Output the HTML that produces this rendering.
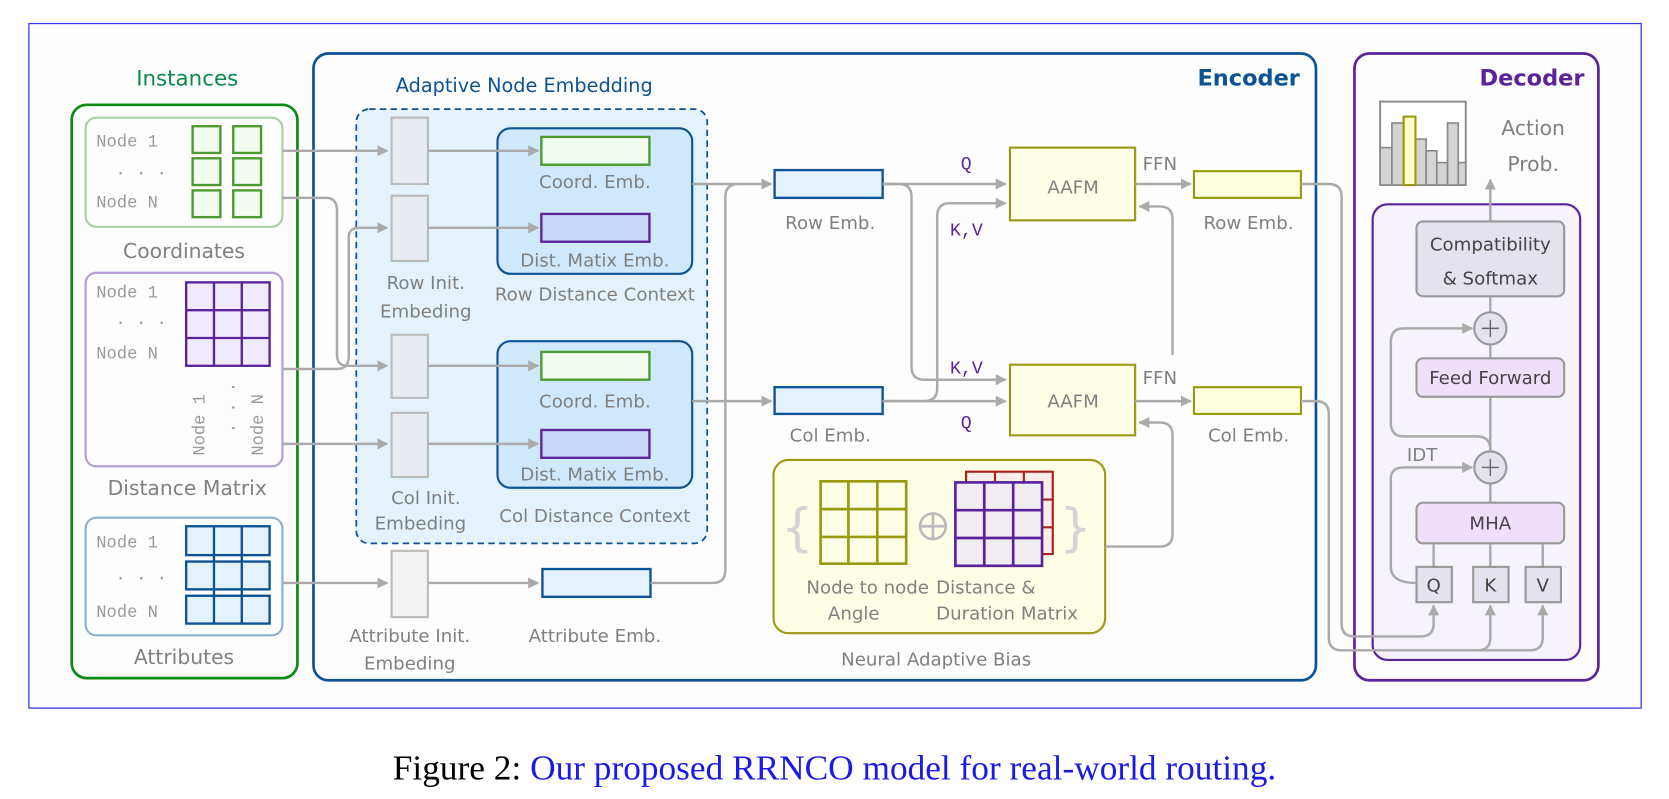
<!DOCTYPE html>
<html><head><meta charset="utf-8"><style>
html,body{margin:0;padding:0;background:#fff;}
svg{display:block;}
text{font-family:"DejaVu Sans","Liberation Sans",sans-serif;fill:#808080;}
.m{font-family:"Liberation Mono","DejaVu Sans Mono",monospace;fill:#9a9a9a;}
.l{stroke:#aaa;stroke-width:2.3;fill:none;}
</style></head><body>
<svg width="1669" height="799" viewBox="0 0 1560 747" preserveAspectRatio="none" xmlns="http://www.w3.org/2000/svg">
<defs>
<marker id="a" viewBox="0 0 10 10" refX="9" refY="5" markerWidth="4.5" markerHeight="4.5" orient="auto"><path d="M0,0L10,5L0,10z" fill="#aaa"/></marker>
</defs>
<rect x="27" y="22" width="1507" height="640" fill="#fdfdfd" stroke="#3a3af0" stroke-width="1.2"/>

<!-- Instances -->
<text x="175" y="80" font-size="20" text-anchor="middle" style="fill:#0a8a4a">Instances</text>
<rect x="67" y="98" width="211" height="536" rx="14" fill="#fdfdfd" stroke="#0a8a10" stroke-width="2.5"/>
<rect x="80" y="110" width="184" height="102" rx="10" fill="#fdfdfd" stroke="#a8d0a0" stroke-width="2"/>
<g class="m" font-size="16"><text class="m" x="90" y="137">Node 1</text><text class="m" x="108" y="163">. . .</text><text class="m" x="90" y="194">Node N</text></g>
<g fill="#f1fbef" stroke="#4b9a2e" stroke-width="2.2">
<rect x="180" y="118" width="26" height="25"/><rect x="218" y="118" width="26" height="25"/>
<rect x="180" y="148" width="26" height="25"/><rect x="218" y="148" width="26" height="25"/>
<rect x="180" y="178" width="26" height="25"/><rect x="218" y="178" width="26" height="25"/></g>
<text x="172" y="241" font-size="19" text-anchor="middle">Coordinates</text>

<rect x="80" y="255" width="184" height="181" rx="10" fill="#fdfdfd" stroke="#b49ad6" stroke-width="2"/>
<text class="m" x="90" y="278" font-size="16">Node 1</text><text class="m" x="108" y="303" font-size="16">. . .</text><text class="m" x="90" y="335" font-size="16">Node N</text>
<g fill="#f1eafc" stroke="#5a239a" stroke-width="2.2">
<rect x="174" y="264" width="78" height="78"/>
<line x1="200" y1="264" x2="200" y2="342"/><line x1="226" y1="264" x2="226" y2="342"/>
<line x1="174" y1="290" x2="252" y2="290"/><line x1="174" y1="316" x2="252" y2="316"/></g>
<text class="m" font-size="16" transform="translate(191,426) rotate(-90)">Node 1</text>
<text class="m" font-size="16" transform="translate(219,405) rotate(-90)">. . .</text>
<text class="m" font-size="16" transform="translate(246,426) rotate(-90)">Node N</text>
<text x="175" y="463" font-size="19" text-anchor="middle">Distance Matrix</text>

<rect x="80" y="484" width="184" height="110" rx="10" fill="#fdfdfd" stroke="#8ab0d0" stroke-width="2"/>
<text class="m" x="90" y="512" font-size="16">Node 1</text><text class="m" x="108" y="542" font-size="16">. . .</text><text class="m" x="90" y="577" font-size="16">Node N</text>
<g fill="#e4f2fd" stroke="#0b5394" stroke-width="2.2">
<rect x="174" y="492" width="78" height="27"/><rect x="174" y="525" width="78" height="26"/><rect x="174" y="557" width="78" height="26"/>
<line x1="200" y1="492" x2="200" y2="583"/><line x1="226" y1="492" x2="226" y2="583"/></g>
<text x="172" y="621" font-size="19" text-anchor="middle">Attributes</text>

<!-- Encoder -->
<rect x="293" y="50" width="937" height="586" rx="14" fill="#fdfdfd" stroke="#0b5394" stroke-width="2.5"/>
<text x="1215" y="80" font-size="21" font-weight="bold" text-anchor="end" style="fill:#0b5394">Encoder</text>
<text x="490" y="86" font-size="18" text-anchor="middle" style="fill:#0b5394">Adaptive Node Embedding</text>
<rect x="333" y="102" width="328" height="406" rx="12" fill="#e4f2fd" stroke="#0b5394" stroke-width="1.6" stroke-dasharray="6,4"/>
<g fill="#e8ecf2" stroke="#bbb" stroke-width="2">
<rect x="366" y="110" width="34" height="62"/><rect x="366" y="183" width="34" height="61"/>
<rect x="366" y="313" width="34" height="59"/><rect x="366" y="386" width="34" height="60"/>
<rect x="366" y="515" width="34" height="62" fill="#f2f2f2"/></g>
<rect x="465" y="120" width="182" height="136" rx="12" fill="#cfe8fb" stroke="#0b5394" stroke-width="2"/>
<rect x="465" y="319" width="182" height="137" rx="12" fill="#cfe8fb" stroke="#0b5394" stroke-width="2"/>
<rect x="506" y="128" width="101" height="26" fill="#f1fbef" stroke="#4b9a2e" stroke-width="2.2"/>
<rect x="506" y="200" width="101" height="26" fill="#c8d8fa" stroke="#5a239a" stroke-width="2.2"/>
<rect x="506" y="329" width="101" height="26" fill="#f1fbef" stroke="#4b9a2e" stroke-width="2.2"/>
<rect x="506" y="402" width="101" height="26" fill="#c8d8fa" stroke="#5a239a" stroke-width="2.2"/>
<rect x="507" y="532" width="101" height="26" fill="#e4f2fd" stroke="#0b5394" stroke-width="2.2"/>
<rect x="724" y="159" width="101" height="26" fill="#e4f2fd" stroke="#0b5394" stroke-width="2.2"/>
<rect x="724" y="362" width="101" height="25" fill="#e4f2fd" stroke="#0b5394" stroke-width="2.2"/>
<rect x="944" y="138" width="117" height="68" fill="#fefee6" stroke="#9a9a10" stroke-width="2"/>
<rect x="944" y="341" width="117" height="66" fill="#fefee6" stroke="#9a9a10" stroke-width="2"/>
<rect x="1116" y="160" width="100" height="25" fill="#fefee0" stroke="#9a9a10" stroke-width="2"/>
<rect x="1116" y="362" width="100" height="25" fill="#fefee0" stroke="#9a9a10" stroke-width="2"/>
<rect x="723" y="430" width="310" height="162" rx="14" fill="#fefee6" stroke="#9a9a10" stroke-width="2"/>
<g font-size="17" text-anchor="middle">
<text x="556" y="176">Coord. Emb.</text><text x="556" y="249">Dist. Matix Emb.</text><text x="556" y="281">Row Distance Context</text>
<text x="556" y="381">Coord. Emb.</text><text x="556" y="449">Dist. Matix Emb.</text><text x="556" y="488">Col Distance Context</text>
<text x="398" y="270">Row Init.</text><text x="398" y="297">Embeding</text>
<text x="398" y="471">Col Init.</text><text x="393" y="495">Embeding</text>
<text x="383" y="600">Attribute Init.</text><text x="383" y="626">Embeding</text>
<text x="556" y="600">Attribute Emb.</text>
<text x="776" y="214">Row Emb.</text><text x="776" y="413">Col Emb.</text>
<text x="1167" y="214">Row Emb.</text><text x="1167" y="413">Col Emb.</text>
<text x="1003" y="181">AAFM</text><text x="1003" y="381">AAFM</text>
<text x="875" y="622">Neural Adaptive Bias</text>
<text x="811" y="555">Node to node</text><text x="798" y="579">Angle</text>
<text x="875" y="555" text-anchor="start">Distance &amp;</text><text x="875" y="579" text-anchor="start">Duration Matrix</text>
</g>
<g class="m" font-size="17" style="fill:#5a239a">
<text class="m" x="898" y="158" style="fill:#5a239a">Q</text><text class="m" x="888" y="220" style="fill:#5a239a">K,V</text>
<text class="m" x="888" y="349" style="fill:#5a239a">K,V</text><text class="m" x="898" y="400" style="fill:#5a239a">Q</text></g>
<text x="1068" y="159" font-size="17">FFN</text><text x="1068" y="359" font-size="17">FFN</text>

<g fill="none" stroke="#9a9a10" stroke-width="2.5">
<rect x="767" y="450" width="80" height="77"/><line x1="793" y1="450" x2="793" y2="527"/><line x1="820" y1="450" x2="820" y2="527"/>
<line x1="767" y1="476" x2="847" y2="476"/><line x1="767" y1="502" x2="847" y2="502"/></g>
<g fill="#fbeeea" stroke="#a8201a" stroke-width="2">
<rect x="903" y="441" width="81" height="77"/><line x1="930" y1="441" x2="930" y2="518"/><line x1="957" y1="441" x2="957" y2="518"/>
<line x1="903" y1="467" x2="984" y2="467"/><line x1="903" y1="493" x2="984" y2="493"/></g>
<g fill="#f1ecf2" stroke="#5a239a" stroke-width="2.5">
<rect x="893" y="451" width="81" height="78"/><line x1="920" y1="451" x2="920" y2="529"/><line x1="947" y1="451" x2="947" y2="529"/>
<line x1="893" y1="477" x2="974" y2="477"/><line x1="893" y1="503" x2="974" y2="503"/></g>
<circle cx="872" cy="492" r="12" fill="none" stroke="#bbb" stroke-width="2.5"/>
<path d="M860,492H884M872,480V504" stroke="#bbb" stroke-width="2.5"/>
<text x="730" y="510" font-size="48" style="fill:#d4d4d4">{</text>
<text x="990" y="510" font-size="48" style="fill:#d4d4d4">}</text>

<!-- Decoder -->
<rect x="1266" y="50" width="228" height="586" rx="14" fill="#fdfdfd" stroke="#5a239a" stroke-width="2.5"/>
<text x="1481" y="80" font-size="21" font-weight="bold" text-anchor="end" style="fill:#5a239a">Decoder</text>
<rect x="1290" y="95" width="80" height="78" fill="#fff" stroke="#888" stroke-width="1.8"/>
<g fill="#d4d4d4" stroke="#888" stroke-width="1.5">
<rect x="1290" y="138" width="11" height="35"/><rect x="1301" y="115" width="11" height="58"/>
<rect x="1323" y="130" width="10" height="43"/><rect x="1333" y="141" width="10" height="32"/><rect x="1343" y="152" width="10" height="21"/><rect x="1353" y="115" width="10" height="58"/><rect x="1363" y="152" width="7" height="21"/></g>
<rect x="1312" y="109" width="11" height="64" fill="#fefec8" stroke="#9a9a10" stroke-width="2"/>
<text x="1433" y="126" font-size="19" text-anchor="middle">Action</text><text x="1433" y="160" font-size="19" text-anchor="middle">Prob.</text>
<rect x="1283" y="191" width="194" height="426" rx="14" fill="#f6f3fd" stroke="#5a239a" stroke-width="2"/>
<path class="l" d="M1393,207V168" marker-end="url(#a)"/>
<path class="l" d="M1393,277V470"/>
<rect x="1324" y="207" width="138" height="70" rx="6" fill="#e4e2ec" stroke="#999" stroke-width="2"/>
<text x="1393" y="234" font-size="17" text-anchor="middle" style="fill:#444">Compatibility</text>
<text x="1393" y="266" font-size="17" text-anchor="middle" style="fill:#444">&amp; Softmax</text>
<rect x="1324" y="335" width="138" height="36" rx="6" fill="#eee0fb" stroke="#999" stroke-width="2"/>
<text x="1393" y="359" font-size="17" text-anchor="middle" style="fill:#444">Feed Forward</text>
<rect x="1324" y="470" width="138" height="38" rx="6" fill="#eee0fb" stroke="#999" stroke-width="2"/>
<text x="1393" y="495" font-size="17" text-anchor="middle" style="fill:#444">MHA</text>
<path class="l" d="M1340,508V530M1393,508V530M1442,508V530"/>
<g fill="#e4e2ec" stroke="#999" stroke-width="2"><rect x="1324" y="530" width="33" height="33"/><rect x="1377" y="530" width="33" height="33"/><rect x="1426" y="530" width="33" height="33"/></g>
<g font-size="17" text-anchor="middle"><text x="1340" y="553" style="fill:#444">Q</text><text x="1393" y="553" style="fill:#444">K</text><text x="1442" y="553" style="fill:#444">V</text></g>
<text x="1315" y="431" font-size="17">IDT</text>
<path class="l" d="M1324,545Q1300,545 1300,530V448Q1300,437 1312,437H1376" marker-end="url(#a)"/>
<path class="l" d="M1393,420Q1393,408 1380,408H1312Q1300,408 1300,395V320Q1300,307 1312,307H1376" marker-end="url(#a)"/>
<circle cx="1393" cy="307" r="15" fill="#e4e2ec" stroke="#999" stroke-width="2"/>
<circle cx="1393" cy="437" r="15" fill="#e4e2ec" stroke="#999" stroke-width="2"/>
<path d="M1385,307H1401M1393,299V315M1385,437H1401M1393,429V445" stroke="#666" stroke-width="1.3"/>

<!-- connectors -->
<path class="l" d="M264,141H362" marker-end="url(#a)"/>
<path class="l" d="M264,185H305Q315,185 315,197V332Q315,342 325,342H362" marker-end="url(#a)"/>
<path class="l" d="M264,345H315Q326,345 326,333V222Q326,213 336,213H362" marker-end="url(#a)"/>
<path class="l" d="M264,415H362" marker-end="url(#a)"/>
<path class="l" d="M264,545H362" marker-end="url(#a)"/>
<path class="l" d="M400,141H503" marker-end="url(#a)"/><path class="l" d="M400,213H503" marker-end="url(#a)"/><path class="l" d="M400,342H503" marker-end="url(#a)"/><path class="l" d="M400,415H503" marker-end="url(#a)"/><path class="l" d="M400,545H503" marker-end="url(#a)"/>
<path class="l" d="M647,172H721" marker-end="url(#a)"/>
<path class="l" d="M647,375H721" marker-end="url(#a)"/>
<path class="l" d="M608,545H666Q678,545 678,533V184Q678,172 690,172"/>
<path class="l" d="M825,172H940" marker-end="url(#a)"/>
<path class="l" d="M825,172H840Q852,172 852,184V343Q852,355 864,355H940" marker-end="url(#a)"/>
<path class="l" d="M825,375H940" marker-end="url(#a)"/>
<path class="l" d="M825,375H864Q876,375 876,363V202Q876,190 888,190H940" marker-end="url(#a)"/>
<path class="l" d="M1061,172H1113" marker-end="url(#a)"/>
<path class="l" d="M1061,375H1113" marker-end="url(#a)"/>
<path class="l" d="M1033,511H1084Q1096,511 1096,499V407Q1096,395 1084,395H1065" marker-end="url(#a)"/>
<path class="l" d="M1096,332V205Q1096,193 1084,193H1065" marker-end="url(#a)"/>
<path class="l" d="M1216,172H1242Q1254,172 1254,184V583Q1254,595 1266,595H1328Q1340,595 1340,583V566" marker-end="url(#a)"/>
<path class="l" d="M1216,375H1230Q1242,375 1242,387V596Q1242,608 1254,608H1381Q1393,608 1393,596V566" marker-end="url(#a)"/>
<path class="l" d="M1381,608H1430Q1442,608 1442,596V566" marker-end="url(#a)"/>

<text x="780" y="729" font-size="33" text-anchor="middle" style="font-family:'Liberation Serif',serif;fill:#000">Figure 2: <tspan style="fill:#1a1ae6">Our proposed RRNCO model for real-world routing.</tspan></text>
</svg>
</body></html>
